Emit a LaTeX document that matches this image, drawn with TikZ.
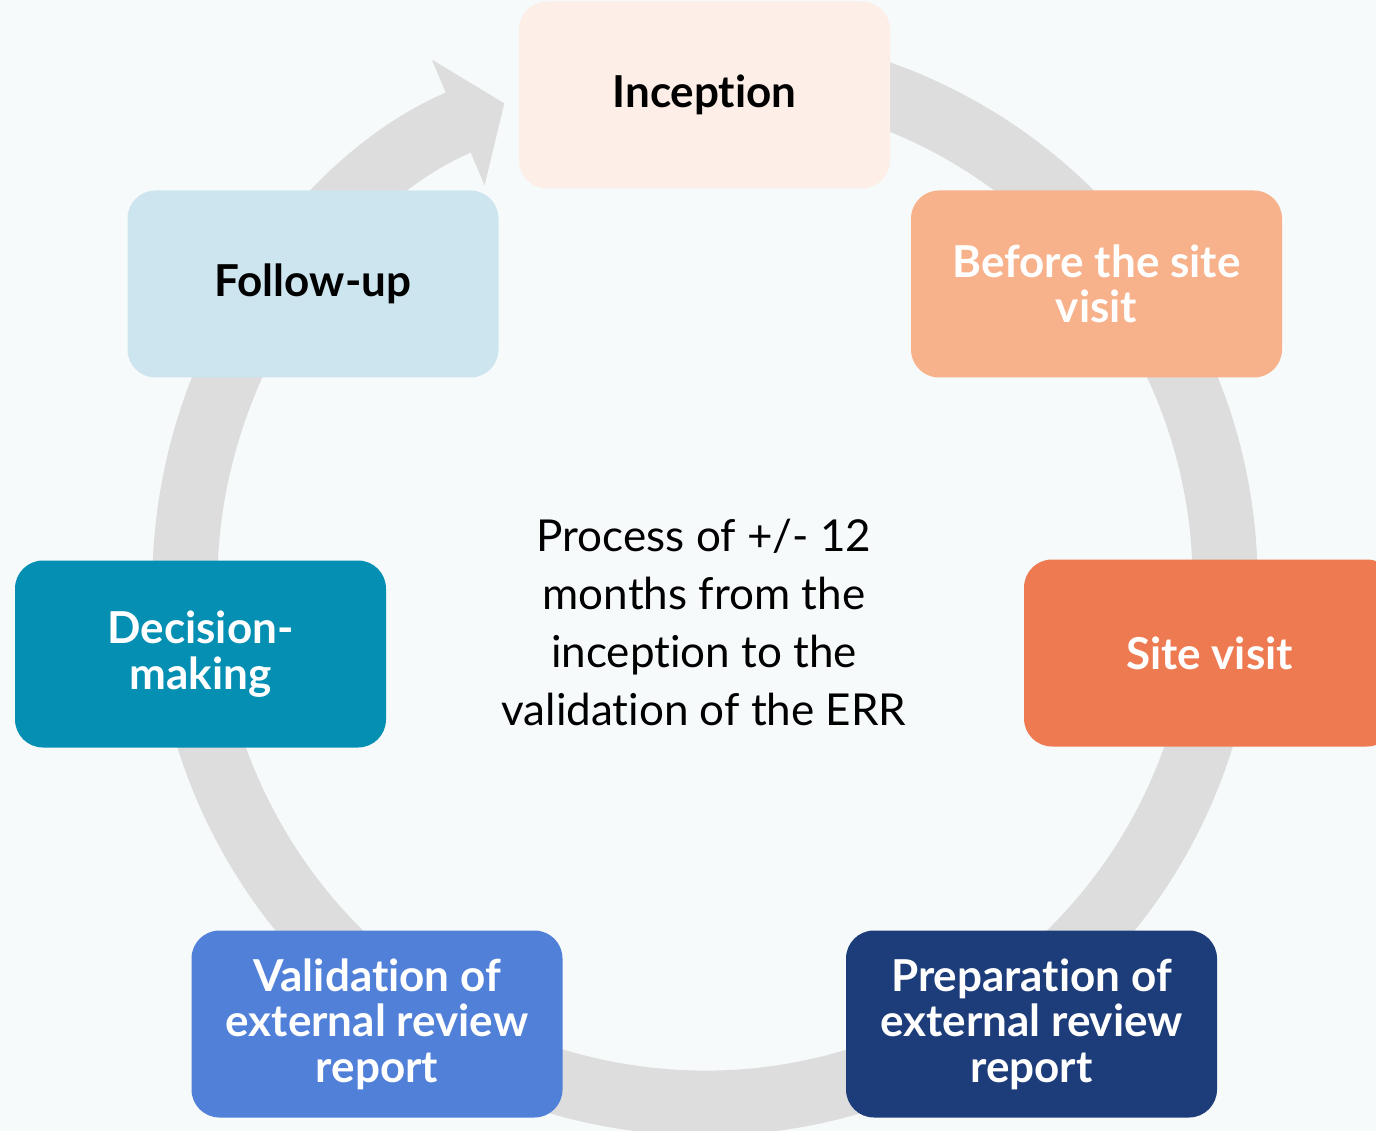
\documentclass[tikz,border=0pt]{standalone}
\usepackage{fontspec}
\setmainfont{Lato}[Ligatures=NoCommon]
\usepackage{xcolor}
\usepackage{tikz}
\usetikzlibrary{positioning, arrows.meta, calc}
\definecolor{pagebg}{HTML}{F6FAFB}
\definecolor{ringgray}{HTML}{DDDDDD}
\definecolor{inceptionfill}{HTML}{FDEFE8}
\definecolor{beforefill}{HTML}{F7B28C}
\definecolor{visitfill}{HTML}{EE7A51}
\definecolor{prepfill}{HTML}{1C3C7A}
\definecolor{validfill}{HTML}{5180D9}
\definecolor{decisionfill}{HTML}{0590B3}
\definecolor{followfill}{HTML}{CDE5EF}

\begin{document}
\begin{tikzpicture}[x=1pt, y=1pt,
    stage/.style={rounded corners=28pt, minimum width=371pt, minimum height=187pt,
      inner sep=0pt, align=center, text=white,
      font=\fontsize{44}{45.5}\selectfont\bfseries}]
  \useasboundingbox[fill=pagebg] (0,0) rectangle (1376,-1131);
  % the cycle ring, its head ending at the inception
  \coordinate (hub) at (705,-583);
  \draw[ringgray, line width=65pt, -{Triangle[length=50pt, width=134pt]}]
    ($(hub)+(80:520)$) arc[start angle=80, end angle=-247.3, radius=520];

  \node[stage, fill=inceptionfill, text=black] (inception) at (704.5,-95) {Inception};
  \node[stage, fill=beforefill] (before) at (1096.5,-284) {Before the site\\visit};
  \node[stage, fill=visitfill] (visit) at (1209.5,-653) {Site visit};
  \node[stage, fill=prepfill] (prep) at (1031.5,-1024) {Preparation of\\external review\\report};
  \node[stage, fill=validfill] (valid) at (377,-1024) {Validation of\\external review\\report};
  \node[stage, fill=decisionfill] (decision) at (200.5,-654) {Decision-\\making};
  \node[stage, fill=followfill, text=black] (follow) at (313,-284) {Follow-up};

  \node[align=center, font=\fontsize{44}{58}\selectfont] (span) at (704,-622)
    {Process of +/- 12\\months from the\\inception to the\\validation of the ERR};
\end{tikzpicture}
\end{document}
